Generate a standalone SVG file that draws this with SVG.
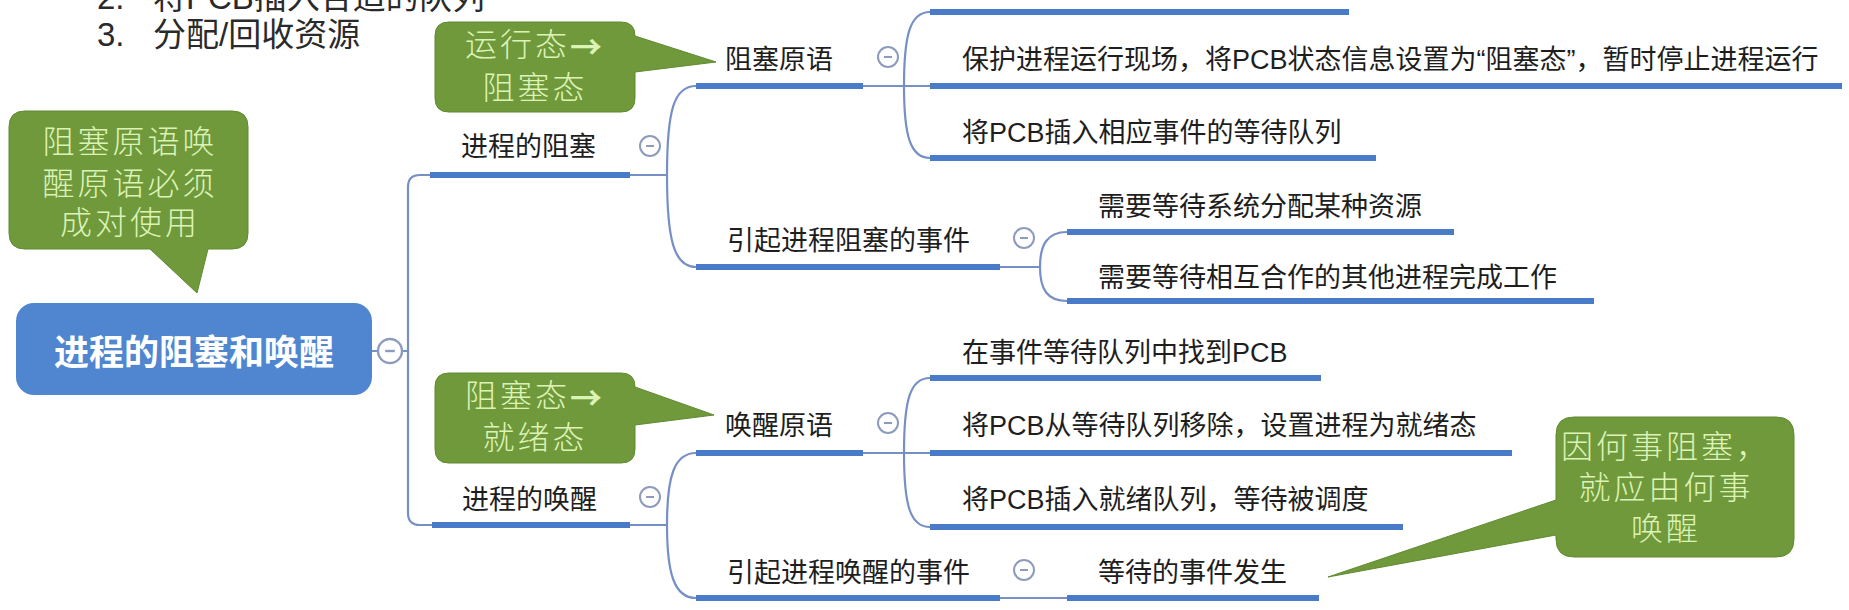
<svg xmlns="http://www.w3.org/2000/svg" width="1849" height="610" viewBox="0 0 1849 610">
<style>
.t{font-family:"Liberation Sans","Noto Sans CJK SC",sans-serif;font-size:27px;fill:#1e1e1e;dominant-baseline:central}
.h{font-family:"Liberation Sans","Noto Sans CJK SC",sans-serif;font-size:33px;fill:#2a2a2a}
.ul{stroke:#4a7bc9;stroke-width:6;fill:none}
.cn{stroke:#7690c6;stroke-width:2.2;fill:none}
.co{fill:#70993c;stroke:#5f8a30;stroke-width:1}
.ct{font-family:"Liberation Sans","Noto Sans CJK SC",sans-serif;font-size:32px;font-weight:300;fill:#dcf3b6;text-anchor:middle;dominant-baseline:central;letter-spacing:3px}
.ar{font-family:"Noto Sans CJK SC",sans-serif;font-weight:bold}
</style>
<defs>
<g id="btn"><circle r="10" fill="#ffffff" stroke="#8d9bbc" stroke-width="2"/><line x1="-4" y1="0" x2="4" y2="0" stroke="#8d9bbc" stroke-width="2"/></g>
</defs>
<rect width="1849" height="610" fill="#ffffff"/>

<g id="slide-text">
<text class="h" x="97" y="9">2.</text><text class="h" x="153" y="9">将PCB插入合适的队列</text>
<text class="h" x="97" y="46">3.</text><text class="h" x="153" y="46">分配/回收资源</text>
</g>

<g id="connectors">
<path class="cn" d="M372,351 H378 M402,351 H408"/>
<path class="cn" d="M430,175 H420 Q408,175 408,187 V513 Q408,525 420,525 H432"/>
<path class="cn" d="M630,175 H667 M696,86 C674,86 667,110 667,175 C667,240 674,267 696,267"/>
<path class="cn" d="M630,525 H667 M696,453 C674,453 667,477 667,525 C667,573 674,598 696,598"/>
<path class="cn" d="M863,86 H930 M930,12 C910,12 904,35 904,86 C904,135 910,158 930,158"/>
<path class="cn" d="M1000,267 H1040 M1067,232 C1047,232 1040,245 1040,267 C1040,289 1047,301 1067,301"/>
<path class="cn" d="M863,453 H930 M930,378 C910,378 904,400 904,453 C904,505 910,527 930,527"/>
<path class="cn" d="M1000,598 H1067"/>
</g>

<g id="root">
<rect x="16" y="303" width="356" height="92" rx="18" fill="#4f86cf"/>
<text x="194" y="352" font-family="Liberation Sans, Noto Sans CJK SC, sans-serif" font-size="35" font-weight="bold" fill="#ffffff" text-anchor="middle" dominant-baseline="central">进程的阻塞和唤醒</text>
<use href="#btn" transform="translate(390 351) scale(1.2)"/>
</g>

<g id="n-block">
<line class="ul" x1="430" y1="175" x2="630" y2="175"/>
<text class="t" x="461" y="147">进程的阻塞</text>
<use href="#btn" x="650" y="146"/>
</g>
<g id="n-wake">
<line class="ul" x1="432" y1="525" x2="630" y2="525"/>
<text class="t" x="462" y="500">进程的唤醒</text>
<use href="#btn" x="650" y="497"/>
</g>

<g id="n-block-prim">
<line class="ul" x1="696" y1="86" x2="863" y2="86"/>
<text class="t" x="725" y="60">阻塞原语</text>
<use href="#btn" x="888" y="57"/>
</g>
<g id="n-block-event">
<line class="ul" x1="696" y1="267" x2="1000" y2="267"/>
<text class="t" x="727" y="241">引起进程阻塞的事件</text>
<use href="#btn" x="1024" y="238"/>
</g>
<g id="n-wake-prim">
<line class="ul" x1="696" y1="453" x2="863" y2="453"/>
<text class="t" x="725" y="426">唤醒原语</text>
<use href="#btn" x="888" y="423"/>
</g>
<g id="n-wake-event">
<line class="ul" x1="696" y1="598" x2="1000" y2="598"/>
<text class="t" x="727" y="573">引起进程唤醒的事件</text>
<use href="#btn" x="1024" y="570"/>
</g>

<g id="bp0"><line class="ul" x1="930" y1="12" x2="1349" y2="12"/></g>
<g id="bp1"><line class="ul" x1="930" y1="86" x2="1842" y2="86"/>
<text class="t" x="962" y="60">保护进程运行现场，将PCB状态信息设置为“阻塞态”，暂时停止进程运行</text></g>
<g id="bp2"><line class="ul" x1="930" y1="158" x2="1376" y2="158"/>
<text class="t" x="962" y="133">将PCB插入相应事件的等待队列</text></g>

<g id="be1"><line class="ul" x1="1067" y1="232" x2="1454" y2="232"/>
<text class="t" x="1098" y="207">需要等待系统分配某种资源</text></g>
<g id="be2"><line class="ul" x1="1067" y1="301" x2="1594" y2="301"/>
<text class="t" x="1098" y="278">需要等待相互合作的其他进程完成工作</text></g>

<g id="wp1"><line class="ul" x1="930" y1="378" x2="1321" y2="378"/>
<text class="t" x="962" y="353">在事件等待队列中找到PCB</text></g>
<g id="wp2"><line class="ul" x1="930" y1="453" x2="1512" y2="453"/>
<text class="t" x="962" y="426">将PCB从等待队列移除，设置进程为就绪态</text></g>
<g id="wp3"><line class="ul" x1="930" y1="527" x2="1403" y2="527"/>
<text class="t" x="962" y="500">将PCB插入就绪队列，等待被调度</text></g>

<g id="we1"><line class="ul" x1="1067" y1="598" x2="1319" y2="598"/>
<text class="t" x="1098" y="573">等待的事件发生</text></g>

<g id="callout-pair">
<path class="co" d="M25,111 H232 Q248,111 248,127 V233 Q248,249 232,249 H208 L197,293 L150,249 H25 Q9,249 9,233 V127 Q9,111 25,111 Z"/>
<text class="ct" x="130" y="142">阻塞原语唤</text>
<text class="ct" x="130" y="184">醒原语必须</text>
<text class="ct" x="130" y="223">成对使用</text>
</g>
<g id="callout-run-block">
<path class="co" d="M449,22 H621 Q635,22 635,36 L716,62 L635,72 V98 Q635,112 621,112 H449 Q435,112 435,98 V36 Q435,22 449,22 Z"/>
<text class="ct" x="535" y="45">运行态<tspan class="ar">→</tspan></text>
<text class="ct" x="535" y="88">阻塞态</text>
</g>
<g id="callout-block-ready">
<path class="co" d="M449,373 H621 Q635,373 635,387 L714,415 L635,425 V449 Q635,463 621,463 H449 Q435,463 435,449 V387 Q435,373 449,373 Z"/>
<text class="ct" x="535" y="396">阻塞态<tspan class="ar">→</tspan></text>
<text class="ct" x="535" y="438">就绪态</text>
</g>
<g id="callout-cause">
<path class="co" d="M1574,417 H1776 Q1794,417 1794,435 V539 Q1794,557 1776,557 H1574 Q1556,557 1556,539 V535 L1328,577 L1556,500 V435 Q1556,417 1574,417 Z"/>
<text class="ct" x="1666" y="447">因何事阻塞，</text>
<text class="ct" x="1666" y="488">就应由何事</text>
<text class="ct" x="1666" y="529">唤醒</text>
</g>
</svg>
